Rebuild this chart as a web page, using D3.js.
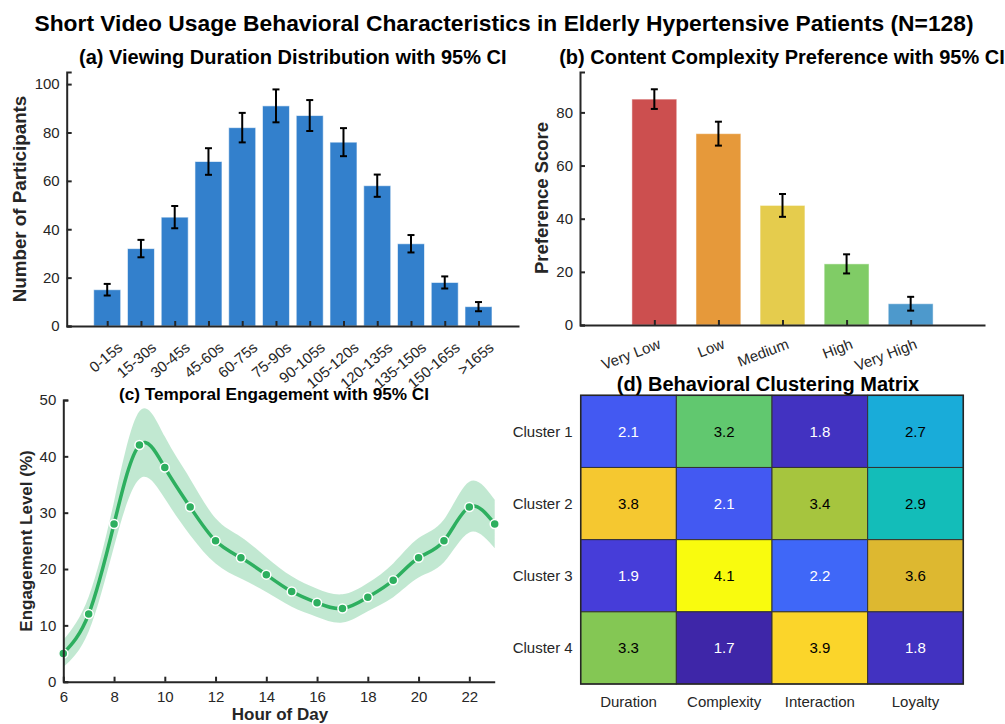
<!DOCTYPE html>
<html>
<head>
<meta charset="utf-8">
<style>
  body { margin: 0; background: #fff; }
  svg { font-family: "Liberation Sans", Arial, Helvetica, sans-serif; }
  .title { font-weight: bold; fill: #000; text-anchor: middle; }
  .label { font-weight: bold; fill: #262626; text-anchor: middle; }
</style>
</head>
<body>
<svg id="chart" width="1005" height="724"></svg>
<script src="https://d3js.org/d3.v7.min.js"></script>
<script>
    // (a) viewing duration
    var durationBins = ['0-15s', '15-30s', '30-45s', '45-60s', '60-75s', '75-90s', '90-105s',
        '105-120s', '120-135s', '135-150s', '150-165s', '>165s'];
    var durationCounts = [15, 32, 45, 68, 82, 91, 87, 76, 58, 34, 18, 8];
    var durationCI = [2.4, 3.6, 4.6, 5.5, 6.1, 6.8, 6.4, 5.8, 4.6, 3.6, 2.5, 1.9];

    // (b) content complexity
    var complexityLevels = ['Very Low', 'Low', 'Medium', 'High', 'Very High'];
    var complexityScores = [85, 72, 45, 23, 8];
    var complexityCI = [3.7, 4.5, 4.3, 3.6, 2.6];
    var complexityColors = ['#cc4f4f', '#e6993a', '#e5cc4d', '#80cc66', '#4d99cc'];

    // (c) temporal engagement
    var hours = [6, 7, 8, 9, 10, 11, 12, 13, 14, 15, 16, 17, 18, 19, 20, 21, 22, 23];
    var engagement = [5, 12, 28, 42, 38, 31, 25, 22, 19, 16, 14, 13, 15, 18, 22, 25, 31, 28];
    var engagementCI = [2.4, 3.1, 4.0, 6.0, 5.5, 5.0, 4.0, 3.7, 3.1, 2.7, 2.5, 2.5, 2.5, 3.0, 3.5, 3.8, 4.5, 4.3];
    var hourTicks = [6, 8, 10, 12, 14, 16, 18, 20, 22];

    // (d) clustering matrix
    var clusters = ['Cluster 1', 'Cluster 2', 'Cluster 3', 'Cluster 4'];
    var dimensions = ['Duration', 'Complexity', 'Interaction', 'Loyalty'];
    var clusterMatrix = [
        [2.1, 3.2, 1.8, 2.7],
        [3.8, 2.1, 3.4, 2.9],
        [1.9, 4.1, 2.2, 3.6],
        [3.3, 1.7, 3.9, 1.8]
    ];
    // parula-like colormap
    var parula = ['#3e26a8', '#4742e3', '#4164f9', '#2d89f0', '#1aa8e0', '#13bdb9',
        '#4bc97f', '#a1c63f', '#e2b72f', '#fbcd30', '#f9fb0e'];

    var font = '"Liberation Sans", Arial, Helvetica, sans-serif';
    var ink = '#262626';
    var svg = d3.select('#chart');

    // make the d3 axes look like the matlab ones
    function styleAxis(g) {
        g.attr('font-family', font).attr('font-size', 15);
        g.select('.domain').attr('stroke', ink).attr('stroke-width', 2);
        g.selectAll('.tick line').attr('stroke', ink).attr('stroke-width', 2);
        g.selectAll('.tick text').attr('fill', ink);
    }

    function errorBars(g, xs, ys, errs, x, y, cap) {
        var eb = g.append('g').attr('stroke', '#000').attr('stroke-width', 2);
        errs.forEach(function (e, i) {
            var cx = x(xs[i]);
            eb.append('line').attr('x1', cx).attr('x2', cx).attr('y1', y(ys[i] - e)).attr('y2', y(ys[i] + e));
            eb.append('line').attr('x1', cx - cap).attr('x2', cx + cap).attr('y1', y(ys[i] - e)).attr('y2', y(ys[i] - e));
            eb.append('line').attr('x1', cx - cap).attr('x2', cx + cap).attr('y1', y(ys[i] + e)).attr('y2', y(ys[i] + e));
        });
    }

    svg.append('text').attr('class', 'title')
        .attr('x', 504).attr('y', 31)
        .style('font-size', '22.8px')
        .text('Short Video Usage Behavioral Characteristics in Elderly Hypertensive Patients (N=128)');

    // ---------- (a) ----------
    var xA = d3.scaleLinear().domain([-0.2, 13.2]).range([66.7, 519]);
    var yA = d3.scaleLinear().domain([0, 105]).range([326, 72]);
    var idxA = durationBins.map(function (d, i) { return i + 1; });
    var gA = svg.append('g');

    gA.selectAll('rect').data(durationCounts).join('rect')
        .attr('x', function (d, i) { return xA(i + 1 - 0.4); })
        .attr('width', xA(0.8) - xA(0))
        .attr('y', function (d) { return yA(d); })
        .attr('height', function (d) { return yA(0) - yA(d); })
        .attr('fill', '#3380cc')
        .attr('stroke', '#ffffff').attr('stroke-opacity', 0.6).attr('stroke-width', 1);

    errorBars(gA, idxA, durationCounts, durationCI, xA, yA, 3.5);

    gA.append('g').attr('transform', 'translate(66.7,0)')
        .call(d3.axisLeft(yA).tickValues([0, 20, 40, 60, 80, 100]).tickSize(-5).tickPadding(7))
        .call(styleAxis);
    var axA = gA.append('g').attr('transform', 'translate(0,326)')
        .call(d3.axisBottom(xA).tickValues(idxA).tickFormat(function (d) { return durationBins[d - 1]; })
            .tickSize(-5).tickSizeOuter(0))
        .call(styleAxis);
    axA.selectAll('.tick text')
        .attr('y', null).attr('dy', '0.71em')
        .attr('text-anchor', 'end')
        .attr('transform', 'translate(9,15) rotate(-40)');

    gA.append('text').attr('class', 'title').attr('x', 292.8).attr('y', 64).style('font-size', '20px')
        .text('(a) Viewing Duration Distribution with 95% CI');
    gA.append('text').attr('class', 'label').style('font-size', '18.8px')
        .attr('transform', 'translate(26,199) rotate(-90)')
        .text('Number of Participants');

    // ---------- (b) ----------
    var xB = d3.scaleLinear().domain([-0.16, 6.16]).range([580, 985]);
    var yB = d3.scaleLinear().domain([0, 95.2]).range([325, 72]);
    var idxB = complexityLevels.map(function (d, i) { return i + 1; });
    var gB = svg.append('g');

    gB.selectAll('rect').data(complexityScores).join('rect')
        .attr('x', function (d, i) { return xB(i + 1 - 0.35); })
        .attr('width', xB(0.7) - xB(0))
        .attr('y', function (d) { return yB(d); })
        .attr('height', function (d) { return yB(0) - yB(d); })
        .attr('fill', function (d, i) { return complexityColors[i]; })
        .attr('stroke', '#ffffff').attr('stroke-opacity', 0.5).attr('stroke-width', 1);

    errorBars(gB, idxB, complexityScores, complexityCI, xB, yB, 3.5);

    gB.append('g').attr('transform', 'translate(580,0)')
        .call(d3.axisLeft(yB).tickValues([0, 20, 40, 60, 80]).tickSize(-5).tickPadding(7))
        .call(styleAxis);
    var axB = gB.append('g').attr('transform', 'translate(0,325)')
        .call(d3.axisBottom(xB).tickValues(idxB).tickFormat(function (d) { return complexityLevels[d - 1]; })
            .tickSize(-5).tickSizeOuter(0))
        .call(styleAxis);
    axB.selectAll('.tick text')
        .attr('y', null).attr('dy', '0.71em')
        .attr('text-anchor', 'end')
        .attr('transform', 'translate(3,13) rotate(-21)');

    gB.append('text').attr('class', 'title').attr('x', 782).attr('y', 64).style('font-size', '20px')
        .text('(b) Content Complexity Preference with 95% CI');
    gB.append('text').attr('class', 'label').style('font-size', '18.5px')
        .attr('transform', 'translate(548,198) rotate(-90)')
        .text('Preference Score');

    // ---------- (c) ----------
    var xC = d3.scaleLinear().domain([6, 23]).range([63.3, 494.7]);
    var yC = d3.scaleLinear().domain([0, 50]).range([681.7, 400]);
    var gC = svg.append('g');
    var green = '#2daf5f';

    var band = d3.area()
        .x(function (d, i) { return xC(hours[i]); })
        .y0(function (d, i) { return yC(d - engagementCI[i]); })
        .y1(function (d, i) { return yC(d + engagementCI[i]); })
        .curve(d3.curveNatural);
    var line = d3.line()
        .x(function (d, i) { return xC(hours[i]); })
        .y(function (d) { return yC(d); })
        .curve(d3.curveNatural);

    gC.append('path').datum(engagement).attr('d', band)
        .attr('fill', '#33b366').attr('fill-opacity', 0.3);
    gC.append('path').datum(engagement).attr('d', line)
        .attr('fill', 'none').attr('stroke', green).attr('stroke-width', 3.5);
    gC.selectAll('circle').data(engagement).join('circle')
        .attr('cx', function (d, i) { return xC(hours[i]); })
        .attr('cy', function (d) { return yC(d); })
        .attr('r', 4.5)
        .attr('fill', green).attr('stroke', '#fff').attr('stroke-width', 1.5);

    gC.append('g').attr('transform', 'translate(63.3,0)')
        .call(d3.axisLeft(yC).tickValues([0, 10, 20, 30, 40, 50]).tickSize(-5).tickPadding(7))
        .call(styleAxis);
    gC.append('g').attr('transform', 'translate(0,681.7)')
        .call(d3.axisBottom(xC).tickValues(hourTicks).tickSize(-5).tickSizeOuter(0).tickPadding(10))
        .call(styleAxis);

    gC.append('text').attr('class', 'title').attr('x', 274).attr('y', 400).style('font-size', '17.2px')
        .text('(c) Temporal Engagement with 95% CI');
    gC.append('text').attr('class', 'label').style('font-size', '17px')
        .attr('x', 280).attr('y', 720)
        .text('Hour of Day');
    gC.append('text').attr('class', 'label').style('font-size', '17px')
        .attr('transform', 'translate(32,541) rotate(-90)')
        .text('Engagement Level (%)');

    // ---------- (d) ----------
    var xD = d3.scaleBand().domain(dimensions).range([580.7, 963.3]);
    var yD = d3.scaleBand().domain(clusters).range([395.3, 684]);
    var flat = d3.merge(clusterMatrix);
    var vMin = d3.min(flat), vMax = d3.max(flat);
    var color = d3.scaleLinear()
        .domain(parula.map(function (c, i) { return vMin + i * (vMax - vMin) / (parula.length - 1); }))
        .range(parula);
    var cells = [];
    clusterMatrix.forEach(function (row, r) {
        row.forEach(function (v, c) { cells.push({ row: clusters[r], col: dimensions[c], v: v }); });
    });
    var gD = svg.append('g');

    gD.selectAll('rect').data(cells).join('rect')
        .attr('x', function (d) { return xD(d.col); })
        .attr('y', function (d) { return yD(d.row); })
        .attr('width', xD.bandwidth())
        .attr('height', yD.bandwidth())
        .attr('fill', function (d) { return color(d.v); })
        .attr('stroke', '#333').attr('stroke-width', 1);
    gD.append('rect')
        .attr('x', 580.7).attr('y', 395.3).attr('width', 963.3 - 580.7).attr('height', 684 - 395.3)
        .attr('fill', 'none').attr('stroke', ink).attr('stroke-width', 1.5);
    gD.selectAll('text.val').data(cells).join('text')
        .attr('class', 'val')
        .attr('x', function (d) { return xD(d.col) + xD.bandwidth() / 2; })
        .attr('y', function (d) { return yD(d.row) + yD.bandwidth() / 2; })
        .attr('dy', '0.35em')
        .attr('text-anchor', 'middle')
        .style('font-size', '15px')
        .attr('fill', function (d) { return d.v < 2.5 ? '#fff' : '#000'; })
        .text(function (d) { return d.v.toFixed(1); });

    gD.selectAll('text.row').data(clusters).join('text')
        .attr('class', 'row')
        .attr('x', 572.7)
        .attr('y', function (d) { return yD(d) + yD.bandwidth() / 2; })
        .attr('dy', '0.35em')
        .attr('text-anchor', 'end')
        .style('font-size', '15px').attr('fill', ink)
        .text(function (d) { return d; });
    gD.selectAll('text.col').data(dimensions).join('text')
        .attr('class', 'col')
        .attr('x', function (d) { return xD(d) + xD.bandwidth() / 2; })
        .attr('y', 707)
        .attr('text-anchor', 'middle')
        .style('font-size', '15px').attr('fill', ink)
        .text(function (d) { return d; });

    gD.append('text').attr('class', 'title').attr('x', 768).attr('y', 391).style('font-size', '20px')
        .text('(d) Behavioral Clustering Matrix');
</script>
</body>
</html>
